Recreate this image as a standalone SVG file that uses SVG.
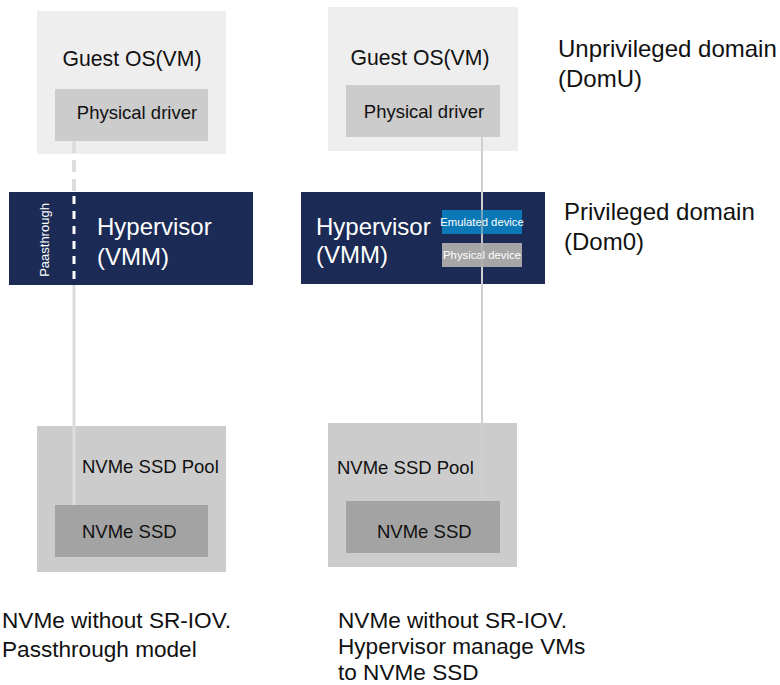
<svg xmlns="http://www.w3.org/2000/svg" width="780" height="685" viewBox="0 0 780 685">
<style>
text{font-family:"Liberation Sans",Arial,sans-serif;fill:#111}
.guest{fill:#eeeeee}
.drv{fill:#cccccc}
.hyp{fill:#1b2b55}
.pool{fill:#cccccc}
.ssd{fill:#a3a3a3}
.w{fill:#ffffff}
.t18{font-size:18.5px}
.t20{font-size:21.2px}
.t23{font-size:24px}
.lbl{font-size:24px}
.cap{font-size:22.6px}
.dev{font-size:11.3px;fill:#ffffff}
</style>
<rect width="780" height="685" fill="#ffffff"/>

<g id="guest-left"><rect class="guest" x="37" y="11" width="189" height="143"/><text class="t20" x="132" y="66" text-anchor="middle">Guest OS(VM)</text></g>
<g id="driver-left"><rect class="drv" x="55" y="89" width="153" height="52"/><text class="t18" x="137" y="119" text-anchor="middle">Physical driver</text></g>
<g id="hyp-left"><rect class="hyp" x="9" y="192" width="244" height="93"/><text class="t23 w" x="97" y="235">Hypervisor</text><text class="t23 w" x="97" y="265">(VMM)</text><text class="w" font-size="13" transform="translate(49,240) rotate(-90)" text-anchor="middle">Paasthrough</text></g>
<g id="pool-left"><rect class="pool" x="37" y="426" width="189" height="146"/><text class="t18" x="82" y="473">NVMe SSD Pool</text></g>
<g id="ssd-left"><rect class="ssd" x="55" y="505" width="153" height="52"/><text class="t18" x="82" y="538">NVMe SSD</text></g>

<g id="guest-right"><rect class="guest" x="328" y="7" width="190" height="144"/><text class="t20" x="420" y="65" text-anchor="middle">Guest OS(VM)</text></g>
<g id="driver-right"><rect class="drv" x="346" y="85" width="154" height="52"/><text class="t18" x="424" y="118" text-anchor="middle">Physical driver</text></g>
<g id="hyp-right"><rect class="hyp" x="301" y="192" width="244" height="92"/><text class="t23 w" x="316" y="235">Hypervisor</text><text class="t23 w" x="316" y="263">(VMM)</text></g>
<g id="pool-right"><rect class="pool" x="328" y="423" width="189" height="144"/><text class="t18" x="337" y="474">NVMe SSD Pool</text></g>
<g id="ssd-right"><rect class="ssd" x="346" y="501" width="154" height="52"/><text class="t18" x="377" y="538">NVMe SSD</text></g>

<g id="connectors">
<line x1="74" y1="141" x2="74" y2="192" stroke="#dddddd" stroke-width="4" stroke-dasharray="12,7"/>
<line x1="74" y1="196" x2="74" y2="285" stroke="#ffffff" stroke-width="3" stroke-dasharray="8,7"/>
<line x1="74" y1="285" x2="74" y2="505" stroke="#dddddd" stroke-width="3"/>
<line x1="482" y1="137" x2="482" y2="500" stroke="#cfcfcf" stroke-width="2"/>
</g>

<g id="emulated-device"><rect x="442" y="210" width="80" height="24" fill="#0a78b6"/><text class="dev" x="482" y="226" text-anchor="middle">Emulated device</text></g>
<g id="physical-device"><rect x="442" y="243" width="80" height="24" fill="#a6a6a6"/><text class="dev" x="482" y="259" text-anchor="middle">Physical device</text></g>
<line x1="482" y1="234" x2="482" y2="243" stroke="#cfcfcf" stroke-width="2"/>
<line x1="482" y1="210" x2="482" y2="267" stroke="#bbbbbb" stroke-width="2" opacity="0.6"/>

<g id="labels">
<text class="lbl" x="558" y="57">Unprivileged domain</text>
<text class="lbl" x="558" y="87">(DomU)</text>
<text class="lbl" x="564" y="220">Privileged domain</text>
<text class="lbl" x="564" y="250">(Dom0)</text>
<text class="cap" x="2" y="628">NVMe without SR-IOV.</text>
<text class="cap" x="2" y="657">Passthrough model</text>
<text class="cap" x="338" y="628">NVMe without SR-IOV.</text>
<text class="cap" x="338" y="654">Hypervisor manage VMs</text>
<text class="cap" x="338" y="680">to NVMe SSD</text>
</g>
</svg>
